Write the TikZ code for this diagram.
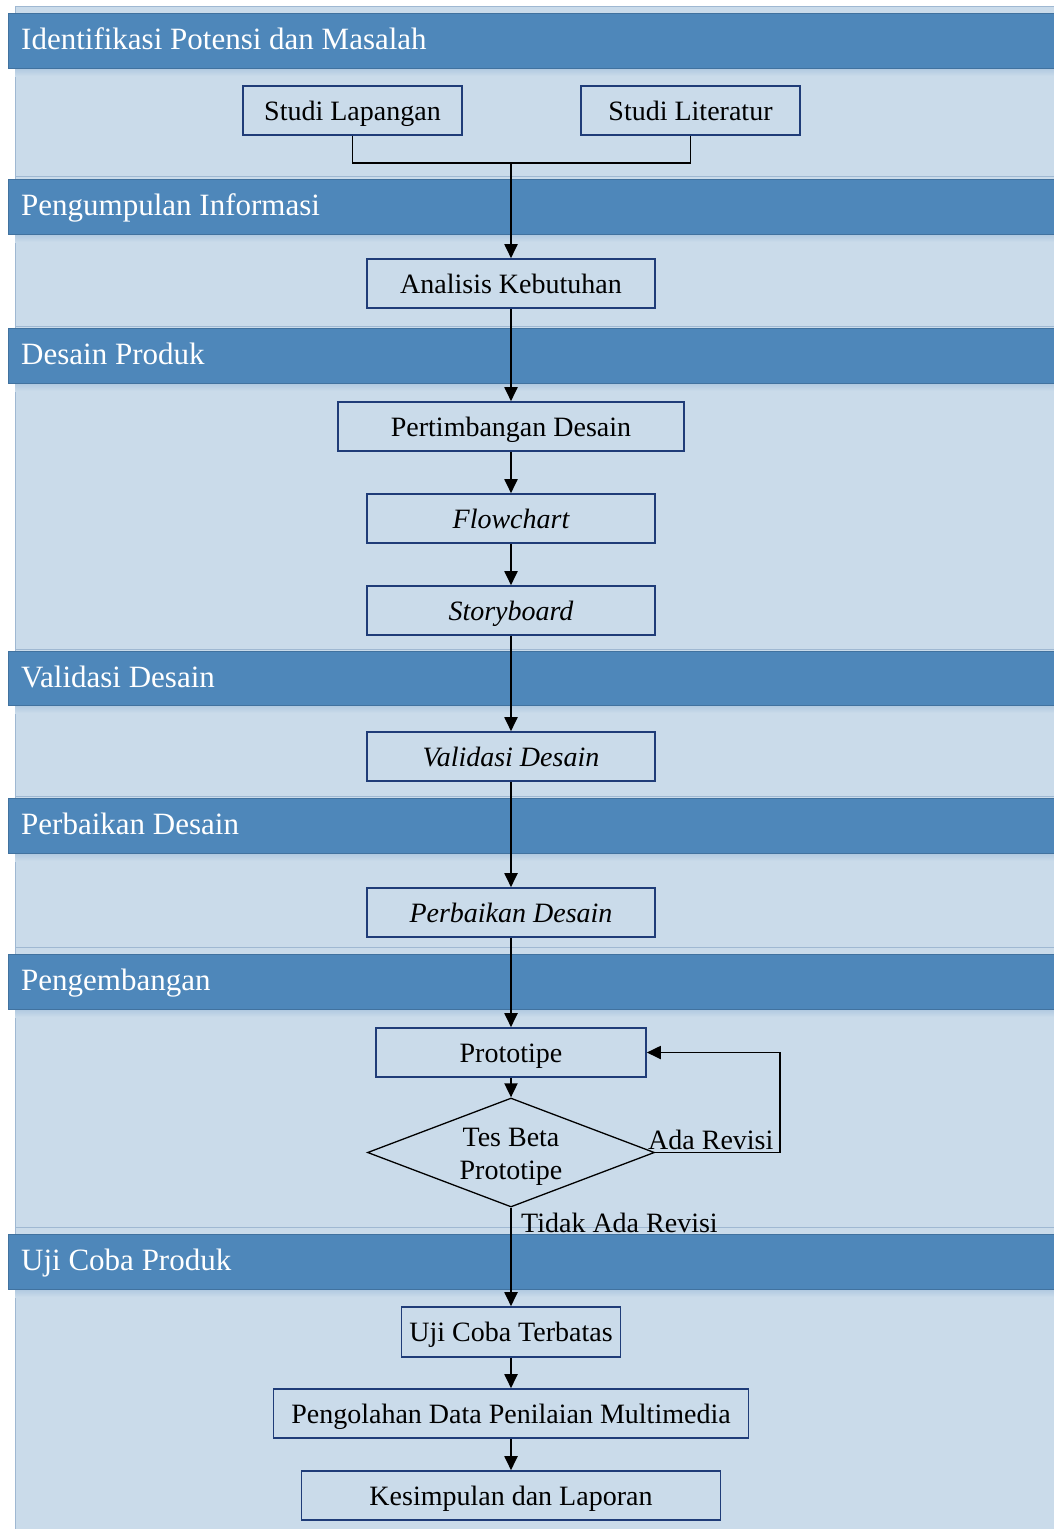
\documentclass[tikz,border=0pt]{standalone}
\usepackage{fontspec}
\setmainfont{Liberation Serif}
\usetikzlibrary{arrows.meta,shapes.geometric}
\definecolor{hdr}{HTML}{4E87BA}
\definecolor{hdrline}{HTML}{41729F}
\definecolor{pnl}{HTML}{CADBEA}
\definecolor{pnlline}{HTML}{9FB8D2}
\definecolor{shad}{HTML}{AFC8E0}
\definecolor{boxline}{HTML}{1F3C78}
\tikzset{
  panel/.style={fill=pnl,draw=pnlline,line width=1pt},
  hdrbar/.style={fill=hdr,draw=hdrline,line width=0.8pt},
  hdrtext/.style={anchor=base west,text=white,font=\fontsize{31}{36}\selectfont,inner sep=0pt},
  stepbox/.style={draw=boxline,line width=1.6pt,minimum height=49pt,inner sep=0pt,text height=22pt,text depth=3pt,font=\fontsize{28}{34}\selectfont},
  decision/.style={diamond,draw=black,line width=1.3pt,aspect=2.63,minimum width=287pt,minimum height=109pt,inner sep=0pt,align=center,text height=55pt,text depth=2pt,font=\fontsize{28}{33}\selectfont},
  lbl/.style={inner sep=0pt,font=\fontsize{28}{34}\selectfont},
  conn/.style={line width=1.9pt,draw=black},
  arr/.style={conn,-{Triangle[length=14pt,width=13pt]}},
}
\begin{document}
\begin{tikzpicture}[x=1pt,y=-1pt]
\useasboundingbox (0,0) rectangle (1054,1529);
\fill[white] (0,0) rectangle (1054,1529);
% panels
\foreach \t/\b in {6/176,176/326,326/649,649/796,796/947,947/1227,1227/1545}{
  \draw[panel] (15,\t) rectangle (1070,\b);
}
% headers
\foreach \t/\b/\txt [count=\i] in {13/68/Identifikasi Potensi dan Masalah,179/234/Pengumpulan Informasi,328/383/Desain Produk,651/705/Validasi Desain,798/853/Perbaikan Desain,954/1009/Pengembangan,1234/1289/Uji Coba Produk}{
  \shade[top color=shad,bottom color=pnl] (15,\b) rectangle (1070,\b+8);
  \draw[hdrbar] (8,\t) rectangle (1070,\b);
  \node[hdrtext] (h\i) at (21,\t+36.5) {\txt};
}
% nodes
\node[stepbox,minimum width=219pt] (lap) at (352.5,110.5) {Studi Lapangan};
\node[stepbox,minimum width=219pt] (lit) at (690.5,110.5) {Studi Literatur};
\coordinate (join) at (511,163);
\node[stepbox,minimum width=288pt] (ana) at (511,283.5) {Analisis Kebutuhan};
\node[stepbox,minimum width=346pt] (per) at (511,426.5) {Pertimbangan Desain};
\node[stepbox,minimum width=288pt] (flo) at (511,518.5) {\itshape Flowchart};
\node[stepbox,minimum width=288pt] (sto) at (511,610.5) {\itshape Storyboard};
\node[stepbox,minimum width=288pt] (val) at (511,756.5) {\itshape Validasi Desain};
\node[stepbox,minimum width=288pt] (pbk) at (511,912.5) {\itshape Perbaikan Desain};
\node[stepbox,minimum width=270pt] (pro) at (511,1052.5) {Prototipe};
\node[decision] (tes) at (511,1152.5) {Tes Beta\\Prototipe};
\node[stepbox,minimum width=219pt,minimum height=50pt] (uji) at (511,1332) {Uji Coba Terbatas};
\node[stepbox,minimum width=475pt] (olah) at (511,1413.5) {Pengolahan Data Penilaian Multimedia};
\node[stepbox,minimum width=419pt] (kes) at (511,1495.5) {Kesimpulan dan Laporan};
\coordinate (loopc) at (780,1152.5);
% connectors
\draw[conn] (lap.south) |- (join);
\draw[conn] (lit.south) |- (join);
\draw[arr] (join) -- (ana.north);
\draw[arr] (ana.south) -- (per.north);
\draw[arr] (per.south) -- (flo.north);
\draw[arr] (flo.south) -- (sto.north);
\draw[arr] (sto.south) -- (val.north);
\draw[arr] (val.south) -- (pbk.north);
\draw[arr] (pbk.south) -- (pro.north);
\draw[arr] (pro.south) -- (tes.north);
\draw[arr] (tes.east) -- (loopc) |- (pro.east);
\draw[arr] (tes.south) -- (uji.north);
\draw[arr] (uji.south) -- (olah.north);
\draw[arr] (olah.south) -- (kes.north);
% labels
\node[lbl,anchor=base west] (ada) at (648,1149) {Ada Revisi};
\node[lbl,anchor=base west] (tidak) at (521,1232) {Tidak Ada Revisi};
\end{tikzpicture}
\end{document}
